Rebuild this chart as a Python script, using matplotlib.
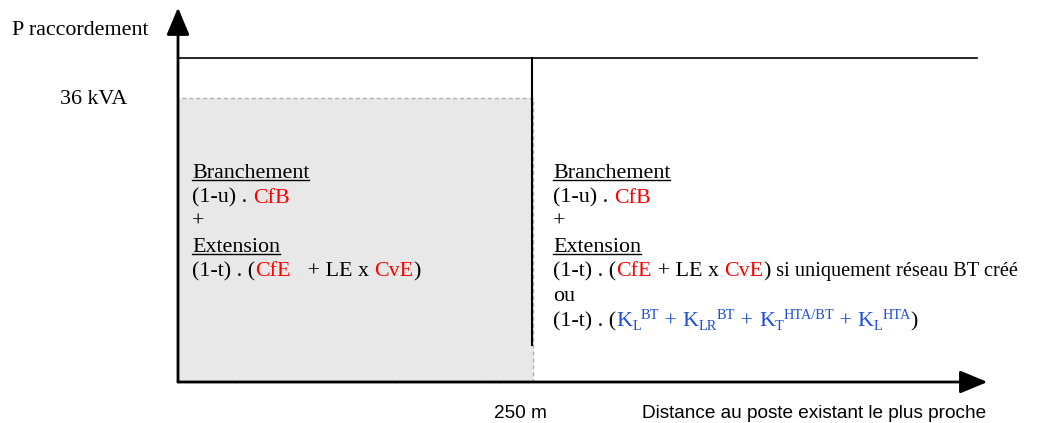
#!/usr/bin/env python3
"""
Schema de la contribution au raccordement : puissance de raccordement
en fonction de la distance au poste existant le plus proche.
"""

import matplotlib
matplotlib.use("Agg")
import matplotlib.pyplot as plt
from matplotlib.patches import Rectangle

W, H = 1052, 423
DPI = 100

SERIF = ["Liberation Serif", "DejaVu Serif"]
SANS = ["Liberation Sans", "DejaVu Sans"]
RED = "#ff0000"
BLUE = "#1f4fd6"
BLACK = "black"

# --- valeurs du schema (metres / kVA) ---
seuil_distance = 250          # m
seuil_puissance = 36          # kVA
puissance_max = 41.0          # kVA, trait haut du schema
distance_max = 563            # m, fin du trait haut
fin_separateur = 4.7          # kVA, bas du trait vertical a 250 m
x_fleche = 570                # m, pointe de l'axe des distances
y_fleche = 47.4               # kVA, pointe de l'axe des puissances

y_label = "P raccordement"
y_tick = "36 kVA"
x_tick = "250 m"
x_label = "Distance au poste existant le plus proche"

# formules : (texte, couleur, style)
# style '' normal / 'u' souligne / 'sup' / 'sub' / 'c' resserre
zone_gauche = [
    [("Branchement", BLACK, "u")],
    [("(1-u) . ", BLACK, ""), ("CfB", RED, "")],
    [("+", BLACK, "")],
    [("Extension", BLACK, "u")],
    [("(1-t) . (", BLACK, ""), ("CfE", RED, ""), ("   + LE x ", BLACK, ""),
     ("CvE", RED, ""), (")", BLACK, "")],
]
zone_droite = [
    [("Branchement", BLACK, "u")],
    [("(1-u) . ", BLACK, ""), ("CfB", RED, "")],
    [("+", BLACK, "")],
    [("Extension", BLACK, "u")],
    [("(1-t) . (", BLACK, ""), ("CfE", RED, ""), (" + LE x ", BLACK, ""),
     ("CvE", RED, ""), (")", BLACK, ""), (" si uniquement réseau BT créé", BLACK, "c")],
    [("ou", BLACK, "")],
    [("(1-t) . (", BLACK, ""),
     ("K", BLUE, ""), ("L", BLUE, "sub"), ("BT", BLUE, "sup"), (" + ", BLUE, ""),
     ("K", BLUE, ""), ("LR", BLUE, "sub"), ("BT", BLUE, "sup"), (" + ", BLUE, ""),
     ("K", BLUE, ""), ("T", BLUE, "sub"), ("HTA/BT", BLUE, "sup"), (" + ", BLUE, ""),
     ("K", BLUE, ""), ("L", BLUE, "sub"), ("HTA", BLUE, "sup"), (")", BLACK, "")],
]

# origine du repere dans l'image et echelles
ORIGIN_PX = (178, 382)
PX_PER_M = 1.42
PX_PER_KVA = 7.9
FS = 15.8        # pt, texte serif
FS_SANS = 13.7   # pt, texte sans


def px(x, y):
    """pixels (depuis le coin haut gauche) -> coordonnees figure"""
    return x / W, 1 - y / H


def text_width(fig, renderer, s, **kw):
    # mesure avec des bornes pour garder les espaces de debut / fin
    a = fig.text(0, 0, "|" + s + "|", **kw)
    b = fig.text(0, 0, "||", **kw)
    w = a.get_window_extent(renderer).width - b.get_window_extent(renderer).width
    a.remove()
    b.remove()
    return w


def rich_line(fig, renderer, x0, y0, segments):
    x = x0
    for s, color, style in segments:
        fs = {"sup": FS * 0.65, "sub": FS * 0.65, "c": FS * 0.93}.get(style, FS)
        dy = {"sup": -7.0, "sub": 4.0}.get(style, 0.0)
        kw = dict(fontsize=fs, family=SERIF, color=color)
        fig.text(*px(x, y0 + dy), s, va="baseline", ha="left", **kw)
        w = text_width(fig, renderer, s, **kw)
        if style == "u":
            fig.add_artist(plt.Line2D([x / W, (x + w) / W], [1 - (y0 + 2.5) / H] * 2,
                                      color=color, lw=1.0))
        x += w


def main() -> int:
    fig = plt.figure(figsize=(W / DPI, H / DPI), dpi=DPI)
    ax = fig.add_axes([0, 0, 1, 1])
    ax.set_xlim(-ORIGIN_PX[0] / PX_PER_M, (W - ORIGIN_PX[0]) / PX_PER_M)
    ax.set_ylim(-(H - ORIGIN_PX[1]) / PX_PER_KVA, ORIGIN_PX[1] / PX_PER_KVA)
    ax.axis("off")

    # zone grisee (< 250 m, < 36 kVA)
    ax.add_patch(Rectangle((0, 0), seuil_distance, seuil_puissance,
                           facecolor="#e8e8e8", edgecolor="#b0b0b0",
                           linestyle=(0, (3, 2)), lw=1.0, zorder=1))

    # trait haut et separateur vertical
    ax.plot([0, distance_max], [puissance_max, puissance_max], color=BLACK, lw=1.2, zorder=2)
    ax.plot([seuil_distance - 1, seuil_distance - 1], [fin_separateur, puissance_max],
            color=BLACK, lw=1.5, zorder=2)

    # axes avec fleches
    arrow = dict(arrowstyle="-|>,head_length=1.2,head_width=0.5", color=BLACK,
                 lw=2.0, shrinkA=0, shrinkB=0, mutation_scale=14)
    ax.annotate("", xy=(x_fleche, 0), xytext=(0, 0), arrowprops=arrow, zorder=3)
    ax.annotate("", xy=(0, y_fleche), xytext=(0, 0), arrowprops=arrow, zorder=3)

    # libelles des axes
    fig.text(*px(12, 35), y_label, fontsize=FS, family=SERIF, va="baseline", ha="left")
    fig.text(*px(60, 104), y_tick, fontsize=FS, family=SERIF, va="baseline", ha="left")
    fig.text(*px(520, 418), x_tick, fontsize=FS_SANS, family=SANS, va="baseline", ha="center")
    fig.text(*px(642, 418), x_label, fontsize=FS_SANS, family=SANS, va="baseline", ha="left")

    renderer = fig.canvas.get_renderer()
    baselines = [178, 202.5, 227, 251.5, 276, 301, 326]
    for segs, yb in zip(zone_gauche, baselines):
        rich_line(fig, renderer, 192, yb, segs)
    for segs, yb in zip(zone_droite, baselines):
        rich_line(fig, renderer, 553, yb, segs)

    fig.savefig("out.png", dpi=DPI, facecolor="white")
    return 0


if __name__ == "__main__":
    raise SystemExit(main())
